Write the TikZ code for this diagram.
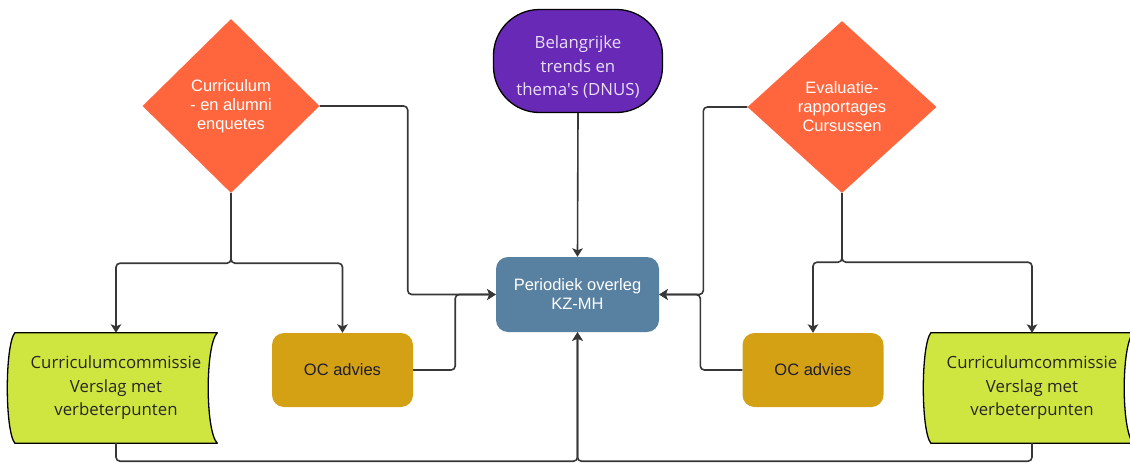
\documentclass[tikz,border=0pt]{standalone}
\usepackage{xcolor}
\usepackage{fontspec}
\setmainfont{Liberation Sans}
\newfontfamily\opensans{Open Sans}
\usepackage{tikz}
\usetikzlibrary{shapes.geometric,arrows.meta,backgrounds}
\definecolor{kzOrange}{RGB}{255, 102, 61}
\definecolor{kzPurple}{RGB}{104, 42, 182}
\definecolor{kzLilac}{RGB}{232, 222, 248}
\definecolor{kzBlue}{RGB}{88, 128, 160}
\definecolor{kzGold}{RGB}{212, 160, 20}
\definecolor{kzLime}{RGB}{207, 230, 64}
\definecolor{kzLine}{RGB}{55, 55, 55}
\definecolor{kzInk}{RGB}{30, 30, 50}

\begin{document}
\begin{tikzpicture}[x=1pt, y=-1pt,
  diabox/.style={diamond, fill=kzOrange, text=white, inner sep=0pt, align=center, font=\fontsize{16.5}{19}\selectfont},
  ocbox/.style={fill=kzGold, text=kzInk, rounded corners=12pt, minimum width=141pt, minimum height=74pt, font=\fontsize{16.5}{19}\selectfont},
  docbox/.style={minimum width=202pt, minimum height=110pt, align=center, text=black!85, font=\opensans\fontsize{16.8}{23.5}\selectfont},
  docline/.style={draw=black, fill=kzLime, line width=1.3pt, line join=round},
  conn/.style={draw=kzLine, line width=1.6pt, rounded corners=4pt, -{Stealth[length=8.5pt, width=10.5pt, inset=2pt]}}
]
\useasboundingbox (0,0) rectangle (1130,463);

% sources
\node[diabox, minimum width=177pt, minimum height=174pt] (lDia) at (231,106) {Curriculum\\- en alumni\\enquetes};
\node[draw=black, line width=1.3pt, fill=kzPurple, rounded corners=46pt, minimum width=169pt, minimum height=103pt,
  label={[text=kzLilac, align=center, font=\opensans\fontsize{16.8}{23.5}\selectfont, yshift=-6pt]center:{Belangrijke\\trends en\\thema\textquotesingle s (DNUS)}}] (trends) at (578,61) {};
\node[diabox, minimum width=189pt, minimum height=172pt] (rDia) at (842,107) {Evaluatie-\\rapportages\\Cursussen};

% central meeting
\node[fill=kzBlue, text=white, rounded corners=12pt, minimum width=163pt, minimum height=75pt, align=center, font=\fontsize{16.5}{19}\selectfont] (kzmh) at (577.5,294.5) {Periodiek overleg\\KZ-MH};

% advice boxes
\node[ocbox] (ocL) at (342.5,370) {OC advies};
\node[ocbox] (ocR) at (813,370) {OC advies};

% committee reports
\node[docbox] (ccL) at (116,388) {Curriculumcommissie\\Verslag met\\verbeterpunten};
\node[docbox] (ccR) at (1032,388) {Curriculumcommissie\\Verslag met\\verbeterpunten};
\begin{scope}[on background layer]
\draw[docline] (ccL.north west) -- (ccL.north east) .. controls +(-12,13) and +(-12,-13) .. (ccL.south east) -- (ccL.south west) .. controls +(-10,-13) and +(-10,13) .. (ccL.north west) -- cycle;
\draw[docline] (ccR.north west) -- (ccR.north east) .. controls +(-12,13) and +(-12,-13) .. (ccR.south east) -- (ccR.south west) .. controls +(-10,-13) and +(-10,13) .. (ccR.north west) -- cycle;
\end{scope}

% connectors
\draw[conn] (lDia.south) -- ++(0,70) -| (ccL.north);
\draw[conn] (lDia.south) -- ++(0,70) -| (ocL.north);
\draw[conn] (lDia.east) -- ++(88,0) |- (kzmh.west);
\draw[conn] (ocL.east) -- ++(42,0) |- (kzmh.west);
\draw[conn] (trends.south) -- (kzmh.north);
\draw[conn] (rDia.west) -- ++(-44,0) |- (kzmh.east);
\draw[conn] (ocR.west) -- ++(-42,0) |- (kzmh.east);
\draw[conn] (rDia.south) -- ++(0,69) -| (ocR.north);
\draw[conn] (rDia.south) -- ++(0,69) -| (ccR.north);
\draw[conn] (ccL.south) -- ++(0,18) -| (kzmh.south);
\draw[conn] (ccR.south) -- ++(0,18) -| (kzmh.south);
\end{tikzpicture}
\end{document}
